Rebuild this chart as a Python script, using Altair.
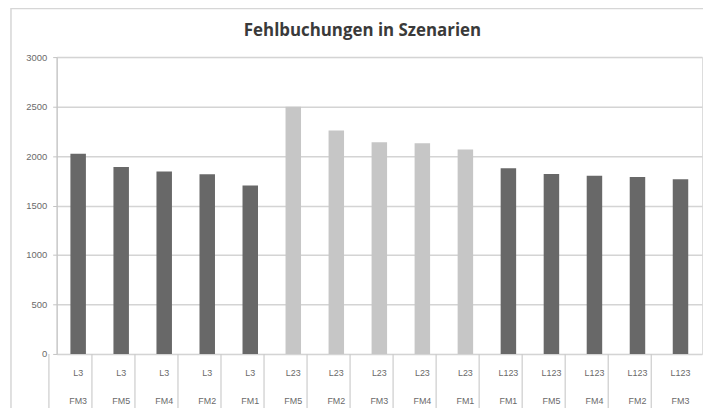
import altair as alt
import pandas as pd

levels = ["L3", "L3", "L3", "L3", "L3",
          "L23", "L23", "L23", "L23", "L23",
          "L123", "L123", "L123", "L123", "L123"]
methods = ["FM3", "FM5", "FM4", "FM2", "FM1",
           "FM5", "FM2", "FM3", "FM4", "FM1",
           "FM1", "FM5", "FM4", "FM2", "FM3"]
values = [2024, 1890, 1845, 1817, 1702,
          2497, 2257, 2139, 2129, 2066,
          1877, 1818, 1801, 1788, 1765]
title_text = "Fehlbuchungen in Szenarien"
y_ticks = [0, 500, 1000, 1500, 2000, 2500, 3000]

df = pd.DataFrame({
    "level": levels,
    "method": methods,
    "value": values,
    "key": [f"{l} {m} {i}" for i, (l, m) in enumerate(zip(levels, methods))],
})
order = list(df["key"])

W, H = 650, 299
step = W / len(order)

xscale = alt.Scale(domain=order, paddingInner=0.64, paddingOuter=0.32)
x_enc = alt.X("key:N", sort=order, scale=xscale, axis=None)

base = alt.Chart(df)

bars = base.mark_bar().encode(
    x=x_enc,
    y=alt.Y("value:Q", scale=alt.Scale(domain=[0, 3000]),
            axis=alt.Axis(values=y_ticks, title=None, grid=True, format="d",
                          gridColor="#d4d4d4", gridWidth=1.5,
                          domainColor="#c4c4c4", domainWidth=1.2,
                          tickColor="#c4c4c4", tickSize=4,
                          labelFont="Liberation Sans", labelFontSize=9.5,
                          labelColor="#6a6a6a", labelPadding=6)),
    color=alt.Color("level:N", legend=None,
                    scale=alt.Scale(domain=["L3", "L23", "L123"],
                                    range=["#686868", "#c6c6c6", "#686868"])),
)

seps = base.mark_rule(color="#cccccc", strokeWidth=1.2).encode(
    x=x_enc,
    xOffset=alt.value(-step / 2),
    y=alt.value(H),
    y2=alt.value(H + 58),
)

lab1 = base.mark_text(font="Liberation Sans", fontSize=9, color="#6a6a6a",
                      baseline="middle").encode(
    x=x_enc, y=alt.value(H + 19), text="level:N")
lab2 = base.mark_text(font="Liberation Sans", fontSize=9, color="#6a6a6a",
                      baseline="middle").encode(
    x=x_enc, y=alt.value(H + 47), text="method:N")

title = alt.Chart(pd.DataFrame({"t": [title_text]})).mark_text(
    font="Open Sans", fontSize=17, fontWeight="bold", color="#3a3a3a",
    baseline="alphabetic", align="center").encode(
    x=alt.value(308), y=alt.value(-21.5), text="t:N")

border = alt.Chart(pd.DataFrame({"a": [0]})).mark_rect(
    fill=None, stroke="#d6d6d6", strokeWidth=1.5).encode(
    x=alt.value(-46), y=alt.value(-49), x2=alt.value(W + 60), y2=alt.value(H + 120))

chart = alt.layer(border, bars, seps, lab1, lab2, title).properties(
    width=W, height=H,
    padding={"left": 49, "top": 48, "right": 1, "bottom": 53},
    autosize=alt.AutoSizeParams(type="none"),
).configure_view(stroke=None).configure(background="white")

chart.save("out.html", embed_options={"renderer": "svg", "actions": False})
